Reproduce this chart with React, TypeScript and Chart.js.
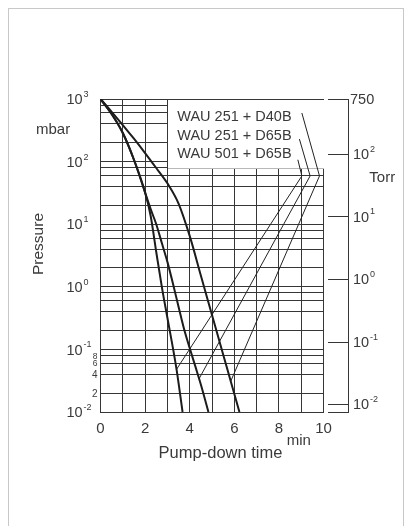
import React, { useEffect, useRef } from 'react';
import { Chart, registerables } from 'chart.js';

Chart.register(...registerables);

const FONT = "'Liberation Sans', Arial, Helvetica, sans-serif";
const TEXT = '#3a3a3a';
const GRID = '#363636';
const CURVE = '#1c1c1c';

// Pump-down curves (time in min, pressure in mbar)
const timeA = [0, 0.5, 1, 1.5, 2, 2.25, 2.5, 2.75, 3, 3.41, 3.68];
const pressureA = [1000, 575, 286, 107, 32, 13.5, 3.6, 1.0, 0.32, 0.048, 0.01];

const timeB = [0, 0.5, 1, 1.5, 2, 2.25, 2.5, 2.75, 3, 3.25, 3.5, 3.75, 4, 4.25, 4.5, 4.84];
const pressureB = [1000, 575, 286, 107, 32, 17.4, 10, 5.0, 2.5, 1.12, 0.48, 0.21, 0.105, 0.054, 0.0275, 0.01];

const timeC = [0, 0.5, 1, 1.5, 2, 2.5, 3, 3.5, 4, 4.5, 5, 5.5, 5.84, 6.23];
const pressureC = [1000, 624, 384, 232, 137, 79, 45, 21.4, 6.5, 1.51, 0.355, 0.083, 0.031, 0.01];

// Legend labels and their leader lines
const legendLabels = ['WAU 251 + D40B', 'WAU 251 + D65B', 'WAU 501 + D65B'];
const leaderD40BTime = [9.03, 9.82, 5.84];
const leaderD40BPressure = [597, 59, 0.031];
const leader251D65BTime = [8.92, 9.4, 4.42];
const leader251D65BPressure = [229, 59, 0.034];
const leader501D65BTime = [8.85, 9.03, 3.41];
const leader501D65BPressure = [107, 59, 0.048];

// Axes
const timeMin = 0;
const timeMax = 10;
const pressureMin = 0.01;
const pressureMax = 1000;
const decadeExponents = [3, 2, 1, 0, -1, -2];
const gridMantissas = [1, 2, 4, 6, 8];
const minorLabels = [8, 6, 4, 2];
const torrExponents = [2, 1, 0, -1, -2];
const torrTop = 750;
const TORR_TO_MBAR = 1.33322;
const legendBoxFromTime = 3;
const legendBoxToPressure = 80;

const pts = (t: number[], p: number[]) => t.map((x, i) => ({ x, y: p[i] }));

function drawPow(ctx: CanvasRenderingContext2D, x: number, yLine: number, exp: number) {
  ctx.textAlign = 'left';
  ctx.textBaseline = 'alphabetic';
  ctx.font = `14.5px ${FONT}`;
  const base = yLine + 5.2;
  ctx.fillText('10', x, base);
  const w = ctx.measureText('10').width;
  ctx.font = `9px ${FONT}`;
  ctx.fillText(String(exp), x + w + 0.8, base - 7.2);
}

export default function App() {
  const ref = useRef<HTMLCanvasElement | null>(null);

  useEffect(() => {
    if (!ref.current) return;
    const gridTicks: number[] = [];
    for (let e = -2; e <= 3; e++) {
      for (const m of gridMantissas) {
        const v = m * Math.pow(10, e);
        if (v <= pressureMax + 1e-9) gridTicks.push(v);
      }
    }

    const boxPlugin = {
      id: 'legendBox',
      beforeDatasetsDraw(chart: any) {
        const { ctx, scales } = chart;
        const xs = scales.x;
        const ys = scales.y;
        const l = Math.round(xs.getPixelForValue(legendBoxFromTime)) + 1;
        const r = Math.round(xs.getPixelForValue(timeMax));
        const t = Math.round(ys.getPixelForValue(pressureMax)) + 1;
        const b = Math.round(ys.getPixelForValue(legendBoxToPressure));
        ctx.save();
        ctx.fillStyle = '#ffffff';
        ctx.fillRect(l, t, r - l, b - t + 1);
        ctx.strokeStyle = '#b8b8b8';
        ctx.lineWidth = 1;
        ctx.beginPath();
        ctx.moveTo(l, b + 0.5);
        ctx.lineTo(r, b + 0.5);
        ctx.stroke();
        ctx.restore();
      },
    };

    const textPlugin = {
      id: 'texts',
      afterDraw(chart: any) {
        const { ctx, scales, chartArea } = chart;
        const ys = scales.y;
        ctx.save();
        ctx.fillStyle = TEXT;
        // left decade labels
        for (const e of decadeExponents) {
          drawPow(ctx, 66.5, ys.getPixelForValue(Math.pow(10, e)), e);
        }
        // minor labels in lowest decade
        ctx.textAlign = 'right';
        ctx.textBaseline = 'middle';
        for (const m of minorLabels) {
          ctx.font = `${m >= 6 ? 8.5 : 10}px ${FONT}`;
          ctx.fillText(String(m), 97.5, ys.getPixelForValue(m * 0.01) + 0.8);
        }
        // units and titles
        ctx.textAlign = 'left';
        ctx.textBaseline = 'alphabetic';
        ctx.font = `15px ${FONT}`;
        ctx.fillText('mbar', 36, 134);
        ctx.fillText('Torr', 369.3, 182);
        ctx.fillText('min', 286.7, 444.5);
        ctx.font = `16.5px ${FONT}`;
        ctx.textAlign = 'center';
        ctx.fillText('Pump-down time', 220.5, 458);
        ctx.save();
        ctx.translate(43.3, 244);
        ctx.rotate(-Math.PI / 2);
        ctx.font = `15.5px ${FONT}`;
        ctx.fillText('Pressure', 0, 0);
        ctx.restore();
        // legend labels
        ctx.textAlign = 'left';
        ctx.font = `14.5px ${FONT}`;
        const baselines = [120.8, 139.5, 158.3];
        legendLabels.forEach((s, i) => ctx.fillText(s, 177.3, baselines[i]));

        // Torr axis
        const top = Math.round(chartArea.top);
        const bottom = Math.round(chartArea.bottom);
        const ax = 348.5;
        ctx.strokeStyle = GRID;
        ctx.lineWidth = 1;
        ctx.beginPath();
        ctx.moveTo(ax, top);
        ctx.lineTo(ax, bottom + 1);
        const tickYs: number[] = [Math.round(ys.getPixelForValue(Math.min(torrTop * TORR_TO_MBAR, pressureMax))) + 0.5];
        for (const e of torrExponents) {
          tickYs.push(Math.round(ys.getPixelForValue(Math.pow(10, e) * TORR_TO_MBAR)) + 0.5);
        }
        tickYs.push(bottom + 0.5);
        for (const y of tickYs) {
          ctx.moveTo(328, y);
          ctx.lineTo(ax, y);
        }
        ctx.stroke();
        ctx.fillStyle = TEXT;
        ctx.font = `14.5px ${FONT}`;
        ctx.textAlign = 'left';
        ctx.fillText(String(torrTop), 350, ys.getPixelForValue(Math.min(torrTop * TORR_TO_MBAR, pressureMax)) + 5.2);
        for (const e of torrExponents) {
          drawPow(ctx, 353, ys.getPixelForValue(Math.pow(10, e) * TORR_TO_MBAR), e);
        }
        ctx.restore();
      },
    };

    const thick = { borderColor: CURVE, borderWidth: 2, pointRadius: 0, cubicInterpolationMode: 'monotone' as const, fill: false };
    const thin = { borderColor: '#222222', borderWidth: 1, pointRadius: 0, tension: 0, fill: false };

    const chart = new Chart(ref.current, {
      type: 'line',
      data: {
        datasets: [
          { label: 'WAU 501 + D65B', data: pts(timeA, pressureA), ...thick },
          { label: 'WAU 251 + D65B', data: pts(timeB, pressureB), ...thick },
          { label: 'WAU 251 + D40B', data: pts(timeC, pressureC), ...thick },
          { label: 'leader D40B', data: pts(leaderD40BTime, leaderD40BPressure), ...thin },
          { label: 'leader 251 D65B', data: pts(leader251D65BTime, leader251D65BPressure), ...thin },
          { label: 'leader 501 D65B', data: pts(leader501D65BTime, leader501D65BPressure), ...thin },
        ],
      },
      options: {
        animation: false,
        responsive: false,
        devicePixelRatio: 1,
        layout: { padding: { left: 0, top: 99, right: 85.5, bottom: 0 } },
        plugins: { legend: { display: false }, tooltip: { enabled: false } },
        scales: {
          x: {
            type: 'linear',
            min: timeMin,
            max: timeMax,
            afterFit: (s: any) => { s.height = 114; },
            ticks: {
              stepSize: 1,
              autoSkip: false,
              maxRotation: 0,
              padding: 8,
              color: TEXT,
              font: { family: FONT, size: 15 },
              callback: (v: any) => (Number(v) % 2 === 0 ? String(v) : ''),
            },
            grid: { color: GRID, lineWidth: 1, drawTicks: false },
            border: { display: true, color: GRID, width: 1 },
          },
          y: {
            type: 'logarithmic',
            min: pressureMin,
            max: pressureMax,
            afterFit: (s: any) => { s.width = 100.5; },
            afterBuildTicks: (s: any) => { s.ticks = gridTicks.map((v) => ({ value: v })); },
            ticks: { display: false },
            grid: { color: GRID, lineWidth: 1, drawTicks: false },
            border: { display: true, color: GRID, width: 1 },
          },
        },
      },
      plugins: [boxPlugin, textPlugin],
    } as any);
    return () => chart.destroy();
  }, []);

  return (
    <div style={{ position: 'absolute', left: 0, top: 0, width: 409, height: 526, overflow: 'hidden', background: '#fff' }}>
      <div style={{ position: 'absolute', left: 8, top: 8, width: 396, height: 540, border: '1px solid #c8c8c8', boxSizing: 'border-box' }} />
      <canvas ref={ref} width={409} height={526} style={{ position: 'absolute', left: 0, top: 0, width: 409, height: 526 }} />
    </div>
  );
}
